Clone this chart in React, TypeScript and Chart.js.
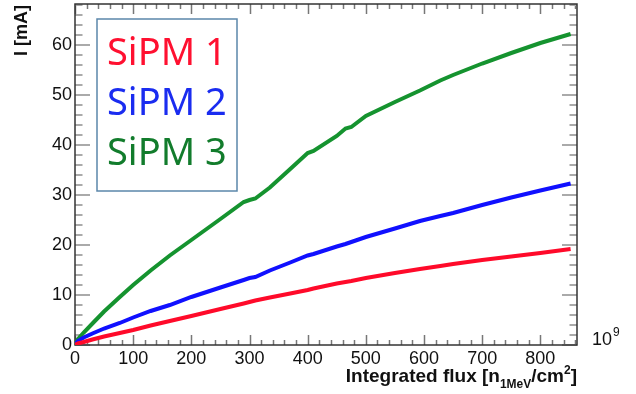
import React, { useEffect, useRef } from "react";
import { Chart, registerables } from "chart.js";

Chart.register(...registerables);

// Integrated flux (units of 10^9 n_1MeV/cm^2)
const flux = [0, 5, 15, 30, 50, 77, 100, 130, 163, 200, 250, 290, 300, 310, 335, 370, 400, 410, 450, 465, 475, 500, 550, 593, 628, 650, 700, 750, 800, 852];
// Current I [mA]
const sipm1 = [0, 0.3, 0.6, 1.1, 1.7, 2.4, 3.0, 3.9, 4.8, 5.8, 7.2, 8.3, 8.6, 8.9, 9.5, 10.3, 11.0, 11.3, 12.3, 12.6, 12.8, 13.4, 14.4, 15.2, 15.8, 16.2, 17.0, 17.7, 18.4, 19.2];
const sipm2 = [0, 0.8, 1.5, 2.3, 3.3, 4.4, 5.5, 6.8, 8.0, 9.6, 11.5, 13.0, 13.4, 13.6, 14.9, 16.5, 17.9, 18.2, 19.7, 20.2, 20.6, 21.6, 23.3, 24.8, 25.8, 26.4, 28.0, 29.5, 30.9, 32.3];
const sipm3 = [0, 1.2, 2.5, 4.3, 6.7, 9.6, 12.0, 14.9, 17.9, 21.0, 25.2, 28.6, 29.0, 29.3, 31.5, 35.2, 38.4, 38.8, 41.8, 43.3, 43.6, 45.8, 48.6, 50.9, 52.9, 54.0, 56.3, 58.4, 60.4, 62.2];

const seriesNames = ["SiPM 1", "SiPM 2", "SiPM 3"];
const seriesValues = [sipm1, sipm2, sipm3];
const lineColors = ["#ff0a2a", "#1010ff", "#15932f"];
const legendColors = ["#ff1030", "#1a2cf0", "#127c2c"];

const xTickValues = [0, 100, 200, 300, 400, 500, 600, 700, 800];
const yTickValues = [0, 10, 20, 30, 40, 50, 60];

const X_MAX = 863;
const Y_MAX = 68.2;

const FONT = '"Liberation Sans", Arial, Helvetica, sans-serif';

const framePlugin = {
  id: "rootFrame",
  beforeDatasetsDraw(chart: any) {
    const { ctx, chartArea, scales } = chart;
    const { left, right, top, bottom } = chartArea;
    const xs = scales.x;
    const ys = scales.y;
    ctx.save();
    // x ticks
    ctx.strokeStyle = "#777";
    ctx.lineWidth = 1.5;
    for (let v = 0; v <= X_MAX; v += 20) {
      const px = Math.round(xs.getPixelForValue(v)) + 0.5;
      const len = v % 100 === 0 ? 10 : 5;
      ctx.beginPath();
      ctx.moveTo(px, bottom);
      ctx.lineTo(px, bottom - len);
      ctx.moveTo(px, top);
      ctx.lineTo(px, top + len);
      ctx.stroke();
    }
    // y ticks
    ctx.strokeStyle = "#aaa";
    ctx.lineWidth = 2;
    for (let v = 0; v <= Y_MAX; v += 2) {
      const py = Math.round(ys.getPixelForValue(v));
      const len = v % 10 === 0 ? 15 : 7.5;
      ctx.beginPath();
      ctx.moveTo(left, py);
      ctx.lineTo(left + len, py);
      ctx.moveTo(right, py);
      ctx.lineTo(right - len, py);
      ctx.stroke();
    }
    // frame
    ctx.strokeStyle = "#333";
    ctx.lineWidth = 1.5;
    ctx.strokeRect(left, top, right - left, bottom - top);
    ctx.restore();
  },
  afterDraw(chart: any) {
    const { ctx, chartArea } = chart;
    const { left, right, top, bottom } = chartArea;
    ctx.save();
    // Legend box
    const bx = left + 22;
    const by = top + 15;
    const bw = 140;
    const bh = 172;
    ctx.fillStyle = "#ffffff";
    ctx.fillRect(bx, by, bw, bh);
    ctx.strokeStyle = "#5b87aa";
    ctx.lineWidth = 1.5;
    ctx.strokeRect(bx, by, bw, bh);
    ctx.font = '38px "Noto Sans", "Open Sans", sans-serif';
    ctx.textBaseline = "alphabetic";
    ctx.textAlign = "left";
    seriesNames.forEach((n, i) => {
      ctx.fillStyle = legendColors[i];
      ctx.fillText(n, bx + 10, by + 46 + i * 50);
    });

    // Y title
    ctx.save();
    ctx.translate(left - 48, top + 1);
    ctx.rotate(-Math.PI / 2);
    ctx.font = "bold 18px " + FONT;
    ctx.fillStyle = "#111";
    ctx.textAlign = "right";
    ctx.textBaseline = "alphabetic";
    ctx.fillText("I [mA]", 0, 0);
    ctx.restore();

    // X title
    const big = "bold 19px " + FONT;
    const small = "bold 12px " + FONT;
    const parts = [
      { t: "Integrated flux [n", f: big, dy: 0 },
      { t: "1MeV", f: small, dy: 6 },
      { t: "/cm", f: big, dy: 0 },
      { t: "2", f: small, dy: -8 },
      { t: "]", f: big, dy: 0 },
    ];
    let total = 0;
    parts.forEach((p) => {
      ctx.font = p.f;
      total += ctx.measureText(p.t).width;
    });
    let cx = right - total;
    const base = bottom + 37;
    ctx.fillStyle = "#111";
    ctx.textAlign = "left";
    parts.forEach((p) => {
      ctx.font = p.f;
      ctx.fillText(p.t, cx, base + p.dy);
      cx += ctx.measureText(p.t).width;
    });

    // 10^9 exponent
    ctx.font = "18px " + FONT;
    ctx.fillText("10", right + 15, bottom);
    const w10 = ctx.measureText("10").width;
    ctx.font = "12px " + FONT;
    ctx.fillText("9", right + 15 + w10 + 1, bottom - 9);
    ctx.restore();
  },
};

export default function App() {
  const ref = useRef<HTMLCanvasElement | null>(null);
  useEffect(() => {
    if (!ref.current) return;
    const chart = new Chart(ref.current, {
      type: "line",
      data: {
        datasets: seriesNames.map((name, i) => ({
          label: name,
          data: flux.map((x, j) => ({ x, y: seriesValues[i][j] })),
          borderColor: lineColors[i],
          backgroundColor: lineColors[i],
          borderWidth: 4,
          pointRadius: 0,
          tension: 0,
          fill: false,
        })),
      },
      options: {
        animation: false,
        responsive: false,
        devicePixelRatio: 1,
        layout: { padding: { left: 0, top: 4, right: 59, bottom: 0 } },
        plugins: { legend: { display: false }, tooltip: { enabled: false }, title: { display: false } },
        scales: {
          x: {
            type: "linear",
            min: 0,
            max: X_MAX,
            grid: { display: false, drawTicks: false, tickLength: 0 },
            border: { display: false },
            ticks: { autoSkip: false, includeBounds: false, color: "#111", font: { family: FONT, size: 18 }, padding: 3, maxRotation: 0 },
            afterBuildTicks: (s: any) => {
              s.ticks = xTickValues.map((v) => ({ value: v }));
            },
            afterFit: (s: any) => {
              s.height = 49;
              s.paddingLeft = 0;
              s.paddingRight = 0;
            },
          },
          y: {
            type: "linear",
            min: 0,
            max: Y_MAX,
            grid: { display: false, drawTicks: false, tickLength: 0 },
            border: { display: false },
            ticks: { autoSkip: false, includeBounds: false, color: "#111", font: { family: FONT, size: 18 }, padding: 3 },
            afterBuildTicks: (s: any) => {
              s.ticks = yTickValues.map((v) => ({ value: v }));
            },
            afterFit: (s: any) => {
              s.width = 75;
              s.paddingTop = 0;
              s.paddingBottom = 0;
            },
          },
        },
      },
      plugins: [framePlugin],
    });
    return () => chart.destroy();
  }, []);
  return (
    <div style={{ position: "fixed", left: 0, top: 0, width: 636, height: 394, background: "#fff" }}>
      <canvas ref={ref} width={636} height={394} style={{ width: 636, height: 394 }} />
    </div>
  );
}
